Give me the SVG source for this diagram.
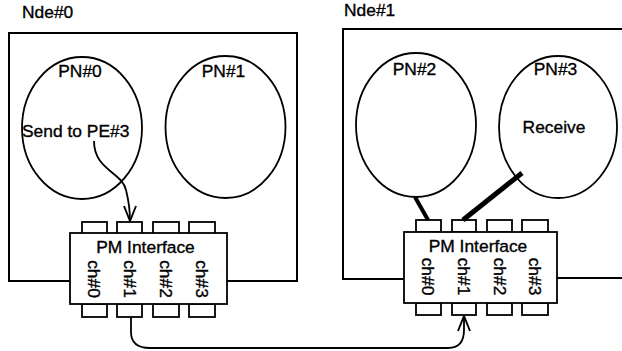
<svg xmlns="http://www.w3.org/2000/svg" width="622" height="351" viewBox="0 0 622 351">
<defs>
<style>
.t{font-family:"Liberation Sans",Arial,sans-serif;font-size:17.4px;fill:#000;stroke:#000;stroke-width:0.35}
.m{text-anchor:middle}
.ln{fill:none;stroke:#000;stroke-width:1.8}
.bx{fill:none;stroke:#000;stroke-width:2}
.pn{fill:none;stroke:#000;stroke-width:1.8}
.pin{fill:#fff;stroke:#000;stroke-width:1.8}
.body{fill:#fff;stroke:#000;stroke-width:1.8}
.thick{stroke:#000;stroke-linecap:butt}
</style>
<marker id="v" viewBox="0 0 17 14" refX="16" refY="7" markerWidth="17" markerHeight="14" markerUnits="userSpaceOnUse" orient="auto">
<path d="M1,1 L16,7 L1,13" fill="none" stroke="#000" stroke-width="1.9"/>
</marker>
</defs>

<g id="node0">
<text class="t" x="22" y="18">Nde#0</text>
<path class="bx" d="M70,281 H9 V33 H297 V281 H227"/>
</g>
<g id="node1">
<text class="t" x="344" y="16">Nde#1</text>
<path class="bx" d="M404,279 H343 V29 H622"/>
<path class="bx" d="M557,278 H622"/>
</g>

<g id="pn0">
<ellipse class="pn" cx="82" cy="128" rx="60" ry="71"/>
<text class="t m" x="80" y="77">PN#0</text>
<text class="t" x="22" y="137">Send to PE#3</text>
</g>
<g id="pn1">
<ellipse class="pn" cx="225.5" cy="127" rx="60" ry="71"/>
<text class="t m" x="223.5" y="77">PN#1</text>
</g>
<g id="pn2">
<ellipse class="pn" cx="416" cy="125" rx="60" ry="72"/>
<text class="t m" x="414.5" y="75">PN#2</text>
</g>
<g id="pn3">
<ellipse class="pn" cx="558" cy="127" rx="59" ry="71"/>
<text class="t m" x="555.5" y="75">PN#3</text>
<text class="t m" x="554" y="133">Receive</text>
</g>

<g id="pm0">
<rect class="pin" x="82" y="222" width="25" height="12"/>
<rect class="pin" x="117" y="222" width="25" height="12"/>
<rect class="pin" x="153" y="222" width="26" height="12"/>
<rect class="pin" x="189" y="222" width="26" height="12"/>
<rect class="pin" x="82" y="304" width="25" height="13"/>
<rect class="pin" x="117" y="304" width="25" height="13"/>
<rect class="pin" x="153" y="304" width="26" height="13"/>
<rect class="pin" x="189" y="304" width="26" height="13"/>
<rect class="body" x="70" y="233" width="157" height="71"/>
<text class="t m" x="145.5" y="253">PM Interface</text>
<text class="t m" transform="translate(88,279) rotate(90)">ch#0</text>
<text class="t m" transform="translate(124,279) rotate(90)">ch#1</text>
<text class="t m" transform="translate(160,279) rotate(90)">ch#2</text>
<text class="t m" transform="translate(196,279) rotate(90)">ch#3</text>
</g>

<g id="pm1">
<rect class="pin" x="416" y="220" width="25" height="12"/>
<rect class="pin" x="452" y="220" width="24" height="12"/>
<rect class="pin" x="487" y="220" width="25" height="12"/>
<rect class="pin" x="522" y="220" width="26" height="12"/>
<rect class="pin" x="416" y="303" width="25" height="12"/>
<rect class="pin" x="452" y="303" width="24" height="12"/>
<rect class="pin" x="487" y="303" width="25" height="12"/>
<rect class="pin" x="522" y="303" width="26" height="12"/>
<rect class="body" x="404" y="232" width="153" height="71"/>
<text class="t m" x="478" y="252">PM Interface</text>
<text class="t m" transform="translate(422,276.5) rotate(90)">ch#0</text>
<text class="t m" transform="translate(458,276.5) rotate(90)">ch#1</text>
<text class="t m" transform="translate(494,276.5) rotate(90)">ch#2</text>
<text class="t m" transform="translate(529,276.5) rotate(90)">ch#3</text>
</g>

<g id="connectors">
<path class="ln" d="M94,141 C94,170 122,172 126,190 C129,202 130,210 130,221" marker-end="url(#v)"/>
<path class="ln" d="M131,317 L131,332 Q131,348 150,348 L448,348 Q464,348 464,330 L464,316" marker-end="url(#v)"/>
<line class="thick" x1="415" y1="197" x2="428" y2="220" stroke-width="4"/>
<line class="thick" x1="522" y1="173" x2="463" y2="220" stroke-width="5"/>
</g>
</svg>
